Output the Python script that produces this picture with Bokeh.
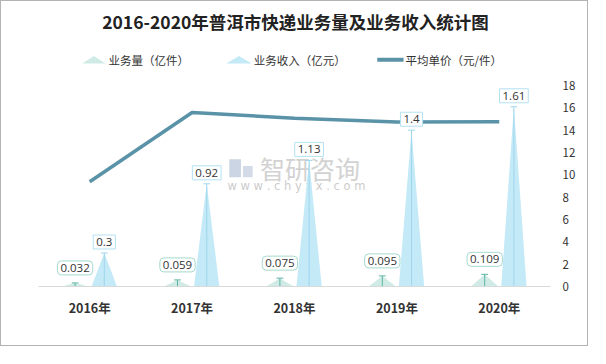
from bokeh.plotting import figure
from bokeh.models import Range1d, FixedTicker
from bokeh.core.properties import value
from bokeh.embed import file_html
from bokeh.resources import INLINE

# ---------------- data ----------------
years = ["2016年", "2017年", "2018年", "2019年", "2020年"]
volume = [0.032, 0.059, 0.075, 0.095, 0.109]          # 业务量（亿件）
revenue = [0.3, 0.92, 1.13, 1.4, 1.61]                # 业务收入（亿元）
price = [9.38, 15.59, 15.07, 14.74, 14.77]            # 平均单价（元/件）
volume_labels = ["0.032", "0.059", "0.075", "0.095", "0.109"]
revenue_labels = ["0.3", "0.92", "1.13", "1.4", "1.61"]
price_ticks = [0, 2, 4, 6, 8, 10, 12, 14, 16, 18]
legend_names = ["业务量（亿件）", "业务收入（亿元）", "平均单价（元/件）"]
title_text = "2016-2020年普洱市快递业务量及业务收入统计图"

# ---------------- layout ----------------
W, H = 588, 346                    # + 1px border each side = 590 x 348
SX, SY = 590 / 606, 348 / 364      # reference -> figure scale


def fx(rx):
    return rx * SX - 1


def fy(ry):
    return ry * SY - 1


FL, FR, FB = round(fx(39)), round(fx(565)), round(fy(299))
PXX = (FR - FL) / len(years)
PXY = (FB - fy(89)) / 18
Y_TOP = FB / PXY
REV_TOP = Y_TOP / 10               # hidden left axis (0-1.8 visible)


def X(rx):
    return (fx(rx) - FL) / PXX


def Y(ry):
    return (FB - fy(ry)) / PXY


FONT = value("Noto Sans CJK SC")
VOL_FILL = "#d0ebe6"
VOL_LINE = "#5db5a3"
REV_FILL = "#c4e9f7"
REV_LINE = "#9ed6ec"
PRICE_COLOR = "#5a93a8"

p = figure(width=W, height=H, x_range=Range1d(0, len(years)), y_range=Range1d(0, Y_TOP),
           output_backend="svg", toolbar_location=None, y_axis_location="right",
           min_border_left=FL, min_border_right=W - FR, min_border_top=0,
           min_border_bottom=H - FB)
p.extra_y_ranges = {"rev": Range1d(0, REV_TOP)}
p.outline_line_color = None
p.xgrid.visible = False
p.ygrid.visible = False
p.background_fill_color = "white"
p.border_fill_color = "white"
p.styles = {"border": "1px solid #b3b3b3"}

centers = [i + 0.5 for i in range(len(years))]
off = 15 * SX / PXX
vol_hw = 14 * SX / PXX
rev_hw = 13 * SX / PXX
cap = 3.5 * SX / PXX
vol_x = [c - off for c in centers]
rev_x = [c + off for c in centers]

# x axis
p.xaxis.ticker = FixedTicker(ticks=centers)
p.xaxis.major_label_overrides = {c: y for c, y in zip(centers, years)}
p.xaxis.axis_line_color = "#d9d9d9"
p.xaxis.major_tick_line_color = None
p.xaxis.minor_tick_line_color = None
p.xaxis.major_tick_out = 0
p.xaxis.major_label_standoff = 11
p.xaxis.major_label_text_font_size = "12.5px"
p.xaxis.major_label_text_font_style = "bold"
p.xaxis.major_label_text_color = "#333333"
p.xaxis.major_label_text_font = "Noto Sans CJK SC"

# right axis
p.yaxis.ticker = FixedTicker(ticks=price_ticks)
p.yaxis.axis_line_color = None
p.yaxis.major_tick_line_color = None
p.yaxis.minor_tick_line_color = None
p.yaxis.major_tick_out = 0
p.yaxis.major_label_standoff = 12
p.yaxis.major_label_text_font_size = "11.5px"
p.yaxis.major_label_text_color = "#333333"
p.yaxis.major_label_text_font = "Noto Sans CJK SC"

# watermark
p.text(x=[X(318)], y=[Y(175)], text=["智研咨询"], text_font=FONT,
       text_font_size="25px", text_color="#d2d2d2", anchor="center")
p.text(x=[X(304)], y=[Y(194)], text=["w w w . c h y x x . c o m"], text_font=value("DejaVu Sans"),
       text_font_size="11.5px", text_color="#cccccc", anchor="center")
p.quad(left=[X(235)], right=[X(247)], top=[Y(166)], bottom=[Y(185)],
       fill_color="#ccd5e3", line_color=None)
p.quad(left=[X(249)], right=[X(259)], top=[Y(173)], bottom=[Y(185)],
       fill_color="#d3dbe8", line_color=None)

# pictorial triangles
p.patches(xs=[[x - vol_hw, x, x + vol_hw] for x in vol_x],
          ys=[[0, v, 0] for v in volume], y_range_name="rev",
          fill_color=VOL_FILL, line_color=None)
p.patches(xs=[[x - rev_hw, x, x + rev_hw] for x in rev_x],
          ys=[[0, v, 0] for v in revenue], y_range_name="rev",
          fill_color=REV_FILL, line_color=None)
p.segment(x0=vol_x, y0=[0] * 5, x1=vol_x, y1=volume, y_range_name="rev",
          line_color=VOL_LINE, line_width=1)
p.segment(x0=[x - cap for x in vol_x], y0=volume, x1=[x + cap for x in vol_x],
          y1=volume, y_range_name="rev", line_color=VOL_LINE, line_width=1)
p.segment(x0=rev_x, y0=[0] * 5, x1=rev_x, y1=revenue, y_range_name="rev",
          line_color=REV_LINE, line_width=1)
p.segment(x0=[x - cap for x in rev_x], y0=revenue, x1=[x + cap for x in rev_x],
          y1=revenue, y_range_name="rev", line_color=REV_LINE, line_width=1)

# price line
p.line(x=centers, y=price, line_color=PRICE_COLOR, line_width=3.5)

# labels
p.text(x=vol_x, y=volume, text=volume_labels, y_range_name="rev", anchor="bottom_center",
       y_offset=-8, text_font=value("Open Sans"), text_font_size="11.5px", text_color="#333333",
       background_fill_color="white", border_line_color="#a6d9cf", padding=3, border_radius=4)
p.text(x=rev_x, y=revenue, text=revenue_labels, y_range_name="rev", anchor="bottom_center",
       y_offset=-4, text_font=value("Open Sans"), text_font_size="11.5px", text_color="#333333",
       background_fill_color="white", border_line_color="#b3e1f2", padding=3)

# title
p.text(x=[X(303)], y=[Y(22)], text=[title_text], anchor="center",
       text_font=FONT, text_font_style="bold", text_font_size="17.5px", text_color="#222222")

# legend
LY = 62
p.patch(x=[X(84), X(96), X(108)], y=[Y(LY + 4), Y(LY - 4), Y(LY + 4)],
        fill_color=VOL_FILL, line_color=None)
p.patch(x=[X(232), X(245), X(258)], y=[Y(LY + 4), Y(LY - 4), Y(LY + 4)],
        fill_color=REV_FILL, line_color=None)
p.segment(x0=[X(387)], y0=[Y(LY)], x1=[X(414)], y1=[Y(LY)],
          line_color=PRICE_COLOR, line_width=4)
p.text(x=[X(111), X(260), X(416)], y=[Y(LY)] * 3, text=legend_names,
       anchor="center_left", text_font=FONT, text_font_size="11.5px", text_color="#333333")

open("out.html", "w").write(file_html(p, INLINE))
